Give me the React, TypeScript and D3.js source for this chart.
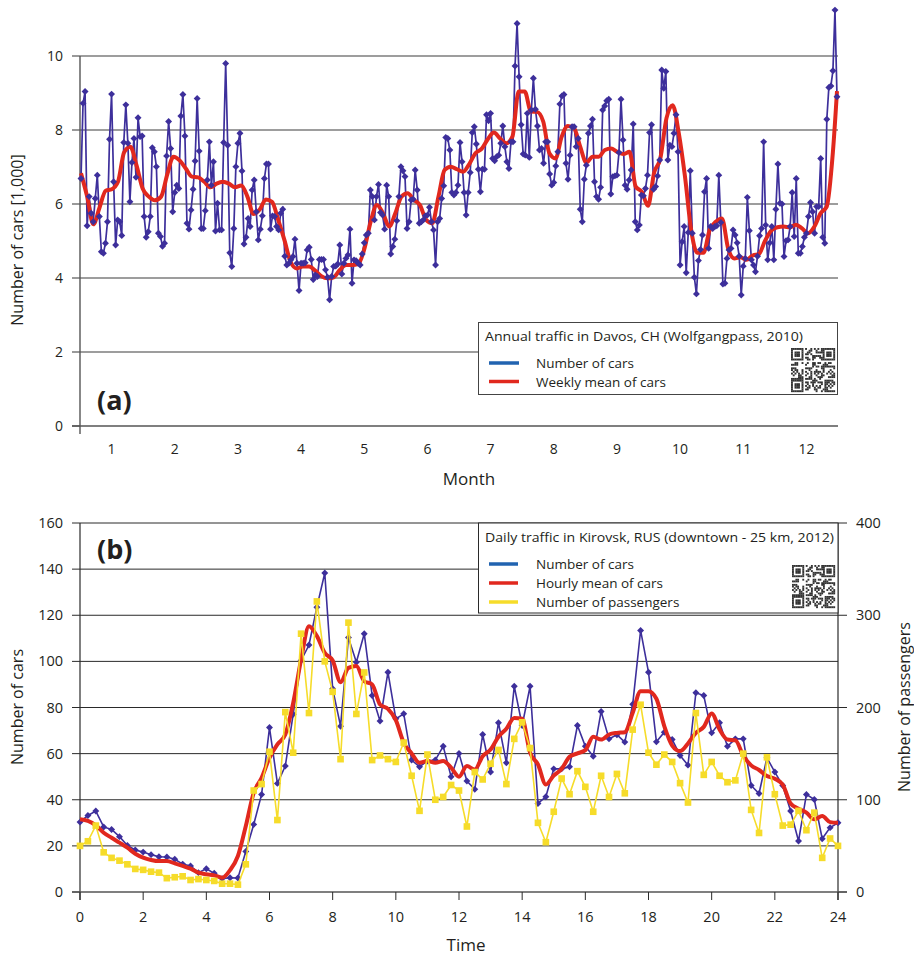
import * as d3 from 'd3';

const W = 914;
const H = 956;
const FONT = '"Open Sans", "Noto Sans", sans-serif';
const INK = '#231f20';

// ---------- (a) Davos, daily number of cars [1,000] ----------
const monthLabels = ['1', '2', '3', '4', '5', '6', '7', '8', '9', '10', '11', '12'];
const yTicksA = [0, 2, 4, 6, 8, 10];

const davosCars = [
    6.69, 8.72, 9.04, 5.41, 6.2, 5.75, 5.52, 6.15, 6.78, 5.66,
    4.71, 4.67, 4.94, 5.52, 7.75, 8.97, 6.6, 4.89, 5.57, 5.52,
    5.15, 7.66, 8.68, 7.64, 6.06, 7.12, 7.77, 6.72, 8.33, 7.82,
    7.84, 5.66, 5.1, 5.25, 5.66, 7.52, 7.41, 7.01, 5.21, 5.12,
    4.86, 4.94, 7.3, 8.23, 7.5, 5.79, 6.31, 6.51, 6.42, 8.38,
    8.96, 7.84, 5.48, 5.32, 5.84, 6.4, 7.16, 8.85, 7.43, 5.34,
    5.34, 5.82, 6.65, 7.68, 6.51, 7.14, 5.27, 6.02, 5.3, 5.3,
    7.66, 9.8, 7.59, 4.68, 4.31, 5.34, 7.01, 7.64, 7.91, 6.89,
    4.92, 5.1, 5.61, 5.39, 6.38, 6.65, 5.79, 5.03, 5.32, 5.68,
    6.69, 7.08,
    7.08, 5.32, 5.68, 5.66, 5.39, 5.3, 5.75, 5.86, 4.59, 4.35,
    4.4, 4.49, 4.58, 5.05, 4.4, 3.66, 4.4, 4.4, 4.41, 4.76,
    4.83, 4.5, 3.96, 4.08, 4.04, 4.5, 4.5, 4.5, 4.22, 4.02,
    3.41, 4.04, 4.31, 4.32, 4.38, 4.89, 4.11, 4.4, 4.53, 4.62,
    5.32, 3.86, 4.49, 4.47, 4.4, 4.35, 4.65, 4.95, 5.16, 5.21,
    6.38, 6.2, 5.57, 6.2, 6.53, 5.77, 5.7, 5.32, 6.51, 6.2,
    4.65, 4.85, 5.05, 5.55, 6.2, 7.01, 6.9, 6.74, 5.34, 5.52,
    6.11, 6.13, 6.92, 6.38, 5.48, 5.52, 5.57, 5.68, 5.7, 5.91,
    5.52, 5.3, 4.35, 5.52, 5.61, 6.15, 6.49, 7.8, 7.77, 7.46,
    6.31, 6.24, 6.31, 6.51, 7.66, 7.14,
    6.31, 5.7, 6.31, 6.85, 7.93, 8.09, 7.62, 6.94, 6.33, 6.94,
    6.94, 8.41, 8.25, 8.45, 7.23, 7.17, 7.28, 7.32, 7.64, 8.11,
    7.55, 7.14, 6.96, 7.68, 7.68, 9.73, 10.88, 9.44, 8.14, 7.35,
    7.32, 8.45, 7.26, 8.54, 9.4, 8.56, 8.11, 7.46, 7.5, 7.1,
    7.68, 7.68, 6.81, 6.51, 6.58, 7.03, 7.41, 8.7, 8.92, 8.96,
    7.1, 6.67, 7.32, 8.09, 8.09, 7.55, 7.77, 5.86, 5.52, 6.67,
    7.05, 7.91, 8.11, 8.29, 6.6, 6.2, 6.13, 6.45, 8.54, 8.65,
    8.79, 8.83, 6.27, 6.74, 6.76, 6.78, 7.39, 8.83, 7.73, 6.51,
    6.4, 6.65, 6.92, 8.16, 5.52, 5.3, 5.43, 6.24, 6.22, 6.42,
    6.78, 7.93, 8.14,
    6.4, 6.47, 6.76, 7.19, 9.62, 9.13, 9.58, 7.19, 7.59, 7.55,
    7.91, 8.41, 7.41, 4.35, 4.98, 5.39, 4.14, 5.23, 6.9, 5.21,
    4.02, 3.57, 4.47, 4.77, 5.16, 6.33, 6.69, 4.8, 5.39, 5.34,
    5.39, 5.41, 6.78, 5.5, 3.84, 3.86, 4.53, 4.76, 4.8, 5.3,
    5.16, 4.95, 4.59, 3.54, 4.32, 4.53, 6.18, 5.28, 4.49, 4.35,
    4.17, 4.59, 5.14, 5.34, 7.68, 5.43, 4.49, 4.95, 5.39, 4.49,
    5.86, 7.08, 6.02, 6.0, 4.58, 5.01, 5.03, 5.39, 6.31, 5.12,
    6.69, 4.67, 4.67, 4.85, 5.1, 5.21, 5.66, 6.04, 5.79, 5.21,
    5.93, 5.93, 7.23, 5.1, 4.94, 8.29, 9.15, 9.19, 9.6, 11.24,
    8.9
];

// weekly mean, read every third day of the year
const weeklyDays = [...d3.range(0, 367, 3), 368];
const weeklyMean = [
    6.83, 6.2, 5.45, 5.9, 6.36, 6.4, 6.6, 7.4, 7.55, 7.05,
    6.42, 6.2, 6.1, 6.2, 6.8, 7.28, 7.18, 6.96, 6.74, 6.72,
    6.6, 6.45, 6.55, 6.6, 6.55, 6.45, 6.5, 6.2, 5.73, 5.85,
    6.12,
    6.06, 5.57, 5.03, 4.44, 4.26, 4.31, 4.31, 4.2, 4.05, 3.99,
    4.02, 4.22, 4.35, 4.35, 4.38, 4.8, 5.52, 5.97, 5.75, 5.39,
    5.75, 6.2, 6.29, 6.11, 5.97, 5.57, 5.48, 6.2, 6.92, 7.01,
    6.94,
    6.87, 7.08, 7.37, 7.49, 7.75, 7.93, 7.77, 7.64, 7.82, 9.04,
    9.04, 8.5, 8.49, 8.23, 7.37, 7.23, 7.82, 8.11, 8.05, 7.55,
    7.12, 7.28, 7.28, 7.46, 7.5, 7.41, 7.35, 7.41, 6.47, 6.33,
    5.95,
    6.85, 7.23, 8.32, 8.67, 7.91, 6.74, 5.3, 4.68, 4.68, 5.3,
    5.52, 5.61, 4.8, 4.53, 4.56, 4.49, 4.61, 4.65, 5.01, 5.28,
    5.37, 5.39, 5.37, 5.44, 5.34, 5.21, 5.39, 5.75, 5.93, 7.4,
    9.05
];

// ---------- (b) Kirovsk, every quarter hour ----------
const hours = d3.range(0, 24.001, 0.25);
const hourTicks = d3.range(0, 25, 2);
const yTicksB = d3.range(0, 161, 20);
const yTicksP = [0, 100, 200, 300, 400];

const kirovskCars = [
    30.3, 33.2, 35.1, 28.2, 27.1, 24, 20.2, 18.2,
    17.3, 16.2, 15.3, 15.2, 14.2, 12.1, 11.3, 8.4,
    10.1, 8.1, 5.8, 6.2, 6.1, 17.6, 29.3, 42.3,
    71.3, 47.1, 54.6, 77.1, 100.4, 107.1, 123.5, 138.3,
    88.1, 71.9, 110.3, 99.6, 112, 85.2, 74.1, 95.3,
    75.1, 77.3, 57.2, 54.3, 56.8, 57.2, 63.2, 50,
    60.1, 48.1, 44.5, 68.3, 52, 73.4, 56, 89.2,
    72.2, 89.2, 38.4, 41.3, 53.4, 53.4, 54.3, 72.2,
    63.2, 58.9, 78.3, 66.4, 68.2, 65, 81.4, 113.4,
    95.3, 65.1, 69.3, 66.1, 59.2, 55, 86.4, 85.2,
    69, 73.4, 63.2, 66.4, 66.4, 46.2, 42.7, 58.2,
    52, 46.2, 35.1, 22.1, 42.3, 40.1, 23.1, 27.9,
    30
];

const hourlyMean = [
    31.5, 30.8, 28.9, 25.7, 23.5, 21.4, 19.2, 16.6,
    14.9, 13.9, 13.4, 13.4, 12.4, 11.3, 10.1, 8.4,
    7.7, 7.2, 6.2, 9.5, 15.6, 28.6, 43, 49.5,
    58.2, 64, 68.3, 82, 100.8, 115.2, 111, 103.7,
    100.4, 91, 97.2, 98, 91.4, 90, 81.3, 79.4,
    74.5, 64.7, 60.1, 56, 56.8, 56, 56.8, 53.9,
    50, 54.6, 53.1, 58.9, 61.8, 67.3, 70.8, 75.5,
    75.1, 60.4, 55.3, 46.6, 50.5, 53.4, 58.6, 60.1,
    61.5, 67.3, 66.1, 68.3, 69, 69.3, 77.7, 87.1,
    87.1, 83.8, 71.9, 63.5, 61.1, 64.4, 69, 71.6,
    77.4, 70.5, 66.1, 65.8, 59.2, 54.9, 52.9, 50.3,
    49.1, 46.6, 38.4, 36.1, 34.4, 31.5, 32.9, 30.3,
    30
];

const passengers = [
    50, 55, 72, 43, 37, 34, 30, 25,
    24, 22, 21, 15, 16, 17, 13, 14,
    13, 12, 9, 9, 8, 30, 110, 117,
    152, 78, 195, 151, 280, 194, 315, 250,
    217, 144, 292, 193, 238, 143, 148, 144,
    141, 162, 126, 88, 149, 100, 103, 116,
    110, 71, 130, 122, 139, 154, 117, 166,
    184, 156, 75, 54, 87, 123, 106, 131,
    114, 87, 126, 103, 128, 107, 176, 203,
    151, 138, 149, 141, 118, 97, 194, 127,
    141, 126, 119, 121, 150, 89, 64, 146,
    106, 72, 73, 88, 67, 86, 37, 58,
    50
];

const BLUE = '#3d2f9b';
const RED = '#e1281e';
const YELLOW = '#f6dc2a';
const LEGEND_BLUE = '#2163b0';

// scales
const xMonth = d3.scaleLinear().domain([0, 12]).range([80, 838]);
const xDay = d3.scaleLinear().domain([0, 368]).range([81, 837]);
const xIdx = d3.scaleLinear().domain([0, davosCars.length - 1]).range([81, 837]);
const yA = d3.scaleLinear().domain([0, 10]).range([426, 56]);

const xT = d3.scaleLinear().domain([0, 24]).range([80, 838]);
const yB = d3.scaleLinear().domain([0, 160]).range([892, 523]);
const yP = d3.scaleLinear().domain([0, 400]).range([892, 523]);

const diamond = d3.symbol(d3.symbolSquare, 24)()!;
const square = d3.symbol(d3.symbolSquare, 44)()!;

function QR({ x, y, size }: { x: number; y: number; size: number }) {
    const n = 25;
    const c = size / n;
    const cells: [number, number][] = [];
    const finder = (i: number, j: number) => {
        const inF = (a: number, b: number) => {
            const di = i - a;
            const dj = j - b;
            if (di < 0 || dj < 0 || di > 6 || dj > 6) return null;
            const ring = Math.min(di, dj, 6 - di, 6 - dj);
            return ring !== 1;
        };
        return inF(0, 0) ?? inF(0, n - 7) ?? inF(n - 7, 0);
    };
    for (let i = 0; i < n; i++) {
        for (let j = 0; j < n; j++) {
            const f = finder(i, j);
            let on: boolean;
            if (f !== null && f !== undefined) on = f;
            else if ((i === 7 || j === 7) && (i < 8 || j < 8)) on = false;
            else on = (i * 37 + j * 61 + ((i * j) % 7) * 13) % 11 < 5;
            if (on) cells.push([i, j]);
        }
    }
    return (
        <g>
            {cells.map(([i, j]) => (
                <rect key={`${i}-${j}`} x={x + j * c} y={y + i * c} width={c + 0.15} height={c + 0.15} fill="#333" />
            ))}
        </g>
    );
}

export default function App() {
    const lineA = d3
        .line<number>()
        .x((_, i) => xIdx(i))
        .y((d) => yA(d));
    const meanA = d3
        .line<number>()
        .x((_, i) => xDay(weeklyDays[i]))
        .y((d) => yA(d))
        .curve(d3.curveMonotoneX);

    const lineCars = d3
        .line<number>()
        .x((_, i) => xT(hours[i]))
        .y((d) => yB(d));
    const lineMean = d3
        .line<number>()
        .x((_, i) => xT(hours[i]))
        .y((d) => yB(d))
        .curve(d3.curveMonotoneX);
    const linePass = d3
        .line<number>()
        .x((_, i) => xT(hours[i]))
        .y((d) => yP(d));

    return (
        <div style={{ position: 'absolute', left: 0, top: 0 }}>
            <svg width={W} height={H} style={{ display: 'block', background: '#fff' }} fontFamily={FONT} fill={INK}>
                {/* ===== panel (a) ===== */}
                <g>
                    {yTicksA
                        .filter((t) => t > 0)
                        .map((t) => (
                            <line key={t} x1={80} x2={838} y1={yA(t)} y2={yA(t)} stroke="#7d7d7d" strokeWidth={1.6} />
                        ))}
                    {yTicksA.map((t) => (
                        <g key={t}>
                            <line x1={72} x2={80} y1={yA(t)} y2={yA(t)} stroke="#555" strokeWidth={1.2} />
                            <text x={63} y={yA(t) + 5} textAnchor="end" fontSize={14}>
                                {t}
                            </text>
                        </g>
                    ))}
                    <line x1={80} x2={80} y1={56} y2={434} stroke="#555" strokeWidth={1.4} />
                    <line x1={72} x2={838} y1={426} y2={426} stroke="#555" strokeWidth={1.4} />
                    {monthLabels.map((m, i) => (
                        <text key={m} x={xMonth(i + 0.5)} y={454} textAnchor="middle" fontSize={14}>
                            {m}
                        </text>
                    ))}
                    <text x={469} y={485} textAnchor="middle" fontSize={17}>
                        Month
                    </text>
                    <text transform="translate(23,240) rotate(-90)" textAnchor="middle" fontSize={16}>
                        Number of cars [1,000]
                    </text>

                    <path d={lineA(davosCars)!} fill="none" stroke={BLUE} strokeWidth={1.7} />
                    <path d={meanA(weeklyMean)!} fill="none" stroke={RED} strokeWidth={4} strokeLinejoin="round" />
                    {davosCars.map((v, i) => (
                        <path
                            key={i}
                            d={diamond}
                            transform={`translate(${xIdx(i)},${yA(v)}) rotate(45)`}
                            fill={BLUE}
                        />
                    ))}

                    <text x={97} y={410} fontSize={27} fontWeight="bold">
                        (a)
                    </text>

                    <rect x={478.5} y={322.5} width={359} height={72} fill="#fff" stroke="#444" strokeWidth={1} />
                    <text x={485} y={341} fontSize={13} textLength={318} lengthAdjust="spacingAndGlyphs">
                        Annual traffic in Davos, CH (Wolfgangpass, 2010)
                    </text>
                    <line x1={489} x2={519} y1={363} y2={363} stroke={LEGEND_BLUE} strokeWidth={3.5} />
                    <line x1={489} x2={519} y1={381.5} y2={381.5} stroke={RED} strokeWidth={3.5} />
                    <text x={536} y={367.5} fontSize={13.5}>
                        Number of cars
                    </text>
                    <text x={536} y={386.5} fontSize={13.5}>
                        Weekly mean of cars
                    </text>
                    <QR x={791} y={348} size={44} />
                </g>

                {/* ===== panel (b) ===== */}
                <g>
                    {yTicksB
                        .filter((t) => t > 0)
                        .map((t) => (
                            <line key={t} x1={80} x2={838} y1={yB(t)} y2={yB(t)} stroke="#2a2a2a" strokeWidth={1} />
                        ))}
                    {yTicksB.map((t) => (
                        <g key={t}>
                            <line x1={72} x2={80} y1={yB(t)} y2={yB(t)} stroke="#2a2a2a" strokeWidth={1} />
                            <text x={63} y={yB(t) + 5} textAnchor="end" fontSize={14.5}>
                                {t}
                            </text>
                        </g>
                    ))}
                    {yTicksP.map((t) => (
                        <g key={t}>
                            <line x1={838} x2={847} y1={yP(t)} y2={yP(t)} stroke="#2a2a2a" strokeWidth={1} />
                            <text x={856} y={yP(t) + 5} fontSize={14.5}>
                                {t}
                            </text>
                        </g>
                    ))}
                    <line x1={80} x2={80} y1={523} y2={900} stroke="#2a2a2a" strokeWidth={1.2} />
                    <line x1={838} x2={838} y1={523} y2={900} stroke="#2a2a2a" strokeWidth={1.2} />
                    <line x1={72} x2={847} y1={892} y2={892} stroke="#555" strokeWidth={1.4} />
                    {hourTicks.map((h) => (
                        <g key={h}>
                            <line x1={xT(h)} x2={xT(h)} y1={892} y2={900} stroke="#2a2a2a" strokeWidth={1} />
                            <text x={xT(h)} y={922} textAnchor="middle" fontSize={14.5}>
                                {h}
                            </text>
                        </g>
                    ))}
                    <text x={466} y={951} textAnchor="middle" fontSize={17}>
                        Time
                    </text>
                    <text transform="translate(23,707) rotate(-90)" textAnchor="middle" fontSize={16}>
                        Number of cars
                    </text>
                    <text transform="translate(910,707) rotate(-90)" textAnchor="middle" fontSize={16}>
                        Number of passengers
                    </text>

                    <path d={lineCars(kirovskCars)!} fill="none" stroke={BLUE} strokeWidth={1.6} />
                    {kirovskCars.map((v, i) => (
                        <path
                            key={i}
                            d={diamond}
                            transform={`translate(${xT(hours[i])},${yB(v)}) rotate(45)`}
                            fill={BLUE}
                        />
                    ))}
                    <path d={lineMean(hourlyMean)!} fill="none" stroke={RED} strokeWidth={4} strokeLinejoin="round" />
                    <path d={linePass(passengers)!} fill="none" stroke={YELLOW} strokeWidth={1.6} />
                    {passengers.map((v, i) => (
                        <path key={i} d={square} transform={`translate(${xT(hours[i])},${yP(v)})`} fill={YELLOW} />
                    ))}

                    <text x={97} y={559} fontSize={27} fontWeight="bold">
                        (b)
                    </text>

                    <rect x={478.5} y={523} width={359.5} height={90} fill="#fff" stroke="#2a2a2a" strokeWidth={1} />
                    <text x={485} y={542} fontSize={13} textLength={349} lengthAdjust="spacingAndGlyphs">
                        Daily traffic in Kirovsk, RUS (downtown - 25 km, 2012)
                    </text>
                    <line x1={489} x2={518} y1={564} y2={564} stroke={LEGEND_BLUE} strokeWidth={3.5} />
                    <line x1={489} x2={518} y1={583} y2={583} stroke={RED} strokeWidth={3.5} />
                    <line x1={489} x2={518} y1={602} y2={602} stroke={YELLOW} strokeWidth={3.5} />
                    <text x={536} y={568.5} fontSize={13.5}>
                        Number of cars
                    </text>
                    <text x={536} y={587.5} fontSize={13.5}>
                        Hourly mean of cars
                    </text>
                    <text x={536} y={606.5} fontSize={13.5}>
                        Number of passengers
                    </text>
                    <QR x={792} y={565} size={43} />
                </g>
            </svg>
        </div>
    );
}
